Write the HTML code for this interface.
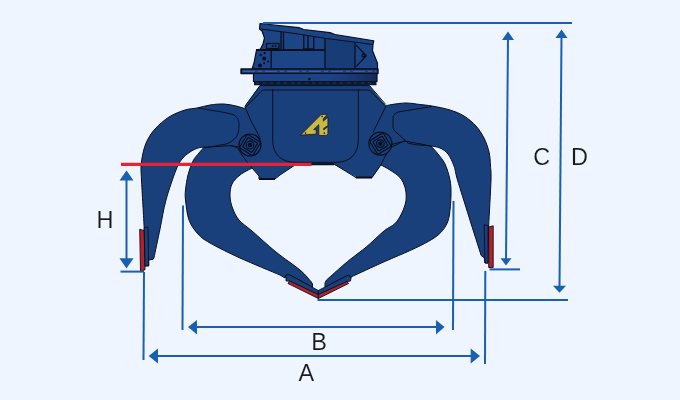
<!DOCTYPE html>
<html><head><meta charset="utf-8">
<style>
html,body{margin:0;padding:0;width:680px;height:400px;overflow:hidden;background:#eef5fe;}
svg{display:block;}
text{font-family:"Liberation Sans",sans-serif;fill:#1a1a1a;}
</style></head>
<body>
<svg width="680" height="400" viewBox="0 0 680 400">
<defs><linearGradient id="ringg" x1="253" y1="0" x2="377" y2="0" gradientUnits="userSpaceOnUse"><stop offset="0" stop-color="#1c4486"/><stop offset="0.6" stop-color="#1c4384"/><stop offset="0.75" stop-color="#193d7a"/><stop offset="1" stop-color="#122b57"/></linearGradient><filter id="gs" x="0" y="0" width="1" height="1"><feOffset dx="0" dy="0"/></filter></defs>
<rect width="680" height="400" fill="#eef5fe"/>

<!-- outer arms -->
<g fill="#1a407c" stroke="#0a0f1e" stroke-width="1" stroke-linejoin="round">
  <!-- left outer arm -->
  <path d="M246.0,109.0 C244.3,108.5 239.7,106.8 236.0,106.0 C232.3,105.2 228.3,104.2 224.0,104.0 C219.7,103.8 214.5,104.3 210.0,105.0 C205.5,105.7 201.2,107.2 197.0,108.0 C192.8,108.8 189.7,108.5 185.0,110.0 C180.3,111.5 174.0,113.8 169.0,117.0 C164.0,120.2 158.7,125.0 155.0,129.0 C151.3,133.0 149.0,137.0 147.0,141.0 C145.0,145.0 144.0,148.7 143.0,153.0 C142.0,157.3 141.2,162.5 141.0,167.0 C140.8,171.5 141.0,169.8 141.5,180.0 C142.0,190.2 143.8,220.0 144.2,228.0 L145.0,266.0 L148.7,266.0 L148.7,260.0 L153.2,259.2 L154.0,257.7 C155.0,252.9 158.0,238.6 160.0,229.0 C162.0,219.4 163.3,209.8 166.0,200.0 C168.7,190.2 173.3,176.8 176.0,170.0 C178.7,163.2 179.7,162.0 182.0,159.0 C184.3,156.0 187.3,153.8 190.0,152.0 C192.7,150.2 195.7,148.8 198.0,148.0 C200.3,147.2 203.0,147.4 204.0,147.3 L240.0,152.0 L255.0,152.0 L255.0,112.0 Z"/>
  <!-- right outer arm -->
  <path d="M385.0,106.0 C386.2,105.8 388.5,105.0 392.0,104.5 C395.5,104.0 401.3,103.0 406.0,103.0 C410.7,103.0 415.7,104.0 420.0,104.5 C424.3,105.0 427.0,105.1 432.0,106.0 C437.0,106.9 444.7,108.3 450.0,110.0 C455.3,111.7 459.7,113.3 464.0,116.0 C468.3,118.7 472.7,122.3 476.0,126.0 C479.3,129.7 481.8,133.7 484.0,138.0 C486.2,142.3 487.9,147.3 489.0,152.0 C490.1,156.7 490.2,161.3 490.5,166.0 C490.8,170.7 491.3,170.2 491.0,180.0 C490.7,189.8 489.1,217.5 488.7,225.0 L488.0,263.0 L485.0,263.0 L484.2,257.7 L481.2,255.5 C479.2,249.1 472.9,229.6 469.0,217.0 C465.1,204.4 460.0,188.5 457.5,180.0 C455.0,171.5 455.6,170.3 454.0,166.0 C452.4,161.7 450.3,157.0 448.0,154.0 C445.7,151.0 442.8,149.3 440.0,148.0 C437.2,146.7 432.5,146.3 431.0,146.0 L400.0,152.0 L375.0,152.0 L375.0,112.0 Z"/>
</g>

<!-- inner arms -->
<g fill="#1a407c" stroke="#0a0f1e" stroke-width="1" stroke-linejoin="round">
  <!-- left inner arm -->
  <path d="M204.0,147.3 C203.2,148.2 200.8,150.7 199.0,153.0 C197.2,155.3 194.8,157.3 193.0,161.0 C191.2,164.7 189.2,170.2 188.0,175.0 C186.8,179.8 185.9,185.8 185.5,190.0 C185.1,194.2 184.9,195.0 185.5,200.0 C186.1,205.0 186.9,214.3 189.0,220.0 C191.1,225.7 194.5,230.2 198.0,234.0 C201.5,237.8 203.0,239.0 210.0,243.0 C217.0,247.0 228.3,252.7 240.0,258.0 C251.7,263.3 273.3,272.2 280.0,275.0 L285.0,278.0 L286.0,275.0 L289.0,274.5 L312.5,287.3 L312.5,284.0 L311.0,281.5 C309.2,279.6 305.8,274.9 300.0,270.0 C294.2,265.1 284.0,258.5 276.0,252.0 C268.0,245.5 258.2,236.3 252.0,231.0 C245.8,225.7 242.2,223.8 239.0,220.0 C235.8,216.2 234.0,212.0 232.5,208.0 C231.0,204.0 230.1,200.0 230.0,196.0 C229.9,192.0 230.3,187.5 232.0,184.0 C233.7,180.5 236.7,177.7 240.0,175.0 C243.3,172.3 250.0,169.2 252.0,168.0 L262.0,150.0 L230.0,145.6 Z"/>
  <!-- right inner arm -->
  <path d="M431.0,146.0 C432.2,147.3 435.7,151.0 438.0,154.0 C440.3,157.0 443.0,159.7 445.0,164.0 C447.0,168.3 449.0,174.8 450.0,180.0 C451.0,185.2 451.1,189.2 451.0,195.0 C450.9,200.8 450.2,209.9 449.4,215.0 C448.5,220.1 447.7,222.4 445.9,225.6 C444.1,228.8 441.8,231.8 438.8,234.4 C435.9,237.1 432.9,238.8 428.2,241.5 C423.5,244.2 418.0,246.9 410.6,250.3 C403.2,253.7 394.0,257.4 384.1,261.8 C374.2,266.2 356.5,274.5 351.0,277.0 L351.0,278.0 L348.5,275.0 L325.0,287.3 L325.0,283.0 L326.5,280.0 C328.8,278.0 336.0,271.5 340.0,268.0 C344.0,264.5 346.2,262.6 350.6,259.1 C355.0,255.6 360.9,251.5 366.5,246.8 C372.1,242.1 379.4,234.7 384.1,230.9 C388.8,227.1 391.9,226.5 394.7,223.8 C397.5,221.2 399.2,218.1 400.9,215.0 C402.6,211.9 404.1,208.0 405.0,205.0 C405.9,202.0 406.2,199.9 406.2,197.0 C406.2,194.1 406.0,190.8 405.0,187.5 C404.0,184.2 402.5,180.4 400.0,177.5 C397.5,174.6 393.2,172.1 390.0,170.0 C386.8,167.9 382.5,165.8 381.0,165.0 L370.0,150.0 L405.0,141.0 Z"/>
</g>

<!-- body fill -->
<path d="M260,85 L369,85 L386,106 L392,150 L381,165 L372,178 L356,177 L334,164.5 L295,165 L280,175 L274,179.5 L259,179.5 L259,176 L252,168 L240,150 L245,106 Z" fill="#1a407c"/>
<!-- body outlines -->
<g fill="none" stroke="#0a0f1e" stroke-width="1" stroke-linejoin="round">
  <path d="M244.75,106.5 L260,85.6 L369.5,85.6 L385.75,104.5"/>
  <path d="M246,107 L261,91.5 C262,90.5 263,90 265,90 L367,90 C368.5,90 369.5,90.5 370.75,91.5 L385.1,105.5"/>
  <path d="M252,168 L259,176 L259,179 L275,179 L280,175 L295,165 L334,164 L356,177.6 L372,177.6 L381.5,164"/>
  <path d="M259,179 L275,179 M356,177.6 L372,177.6 M295,164.2 L334,164.2" stroke-width="2"/>
  <path d="M245,107 L251,121 C255,128 258,134 260.6,139.4"/>
  <path d="M386,106 L373,132.4"/>
  <path d="M230,145.6 C233,146 236,147 237.5,148 C239,150 240,152 241,153.75 L247.5,162.5 L252,168"/>
  <path d="M405,141 C402,142 400,143 398,144 L390.7,147.5"/>
  <path d="M386.6,153.6 L381.8,162.6 L381,165"/>
  <path d="M198,108 C215,111 230,113 234,115 C238,118 239,121 239,125 C239,130 238,134 237,136 C234,140 230,143 226,144 L204,148"/>
  <path d="M432,106.5 L398,112 C395,113 394,115 393,117 L393,128 C394,130 395,132 397,133 L408,143 C412,144 416,145 420,145 L431,146"/>
  <path d="M272.7,89 L272.7,140 C272.7,154 281,162.3 295,162.3 L336,162.3 C350,162.3 358.3,154 358.3,140 L358.3,89"/>
</g>

<!-- pivots -->
<g fill="#1a407c" stroke="#0a0f1e" stroke-width="1.2">
  <circle cx="250" cy="145" r="11"/>
  <rect x="242.2" y="137.2" width="15.6" height="15.6" rx="1.5" transform="rotate(32 250 145)" fill="none"/>
  <rect x="244.5" y="139.5" width="11" height="11" rx="1" transform="rotate(32 250 145)" fill="none"/>
  <circle cx="250" cy="145" r="3.8" fill="none"/>
  <circle cx="250" cy="145" r="1.7" fill="#0a0f1e"/>
  <circle cx="380.4" cy="143.6" r="11.5"/>
  <rect x="372.4" y="135.6" width="16" height="16" rx="1.5" transform="rotate(-32 380.4 143.6)" fill="none"/>
  <rect x="374.9" y="138.1" width="11" height="11" rx="1" transform="rotate(-32 380.4 143.6)" fill="none"/>
  <circle cx="380.4" cy="143.6" r="3.8" fill="none"/>
  <circle cx="380.4" cy="143.6" r="1.7" fill="#0a0f1e"/>
</g>

<!-- rotator -->
<g stroke="#0a0f1e" stroke-width="1.2" stroke-linejoin="round">
  <path d="M260,23.5 L298.75,27.6 L303.75,29.5 L330,32.6 L335,34.5 L373.75,40.75 L373,44.5 L372.5,50.75 L377.5,63.25 L377.5,69 L252,69 L254,63 L256.5,50 L260.5,49 L263,44 L264.5,38 L262,31 L259.5,29 Z" fill="#1c4585"/>
  <path d="M325,38.25 L353.75,42 L355,42.5 L355,68.5 L325,68.5 Z" fill="#183d76" stroke="none"/>
  <path d="M261,29 L295,33.5 L325,38.25 L353.75,42 L372.5,44.5" fill="none"/>
  <rect x="241" y="69" width="137" height="4.5" fill="#1b4283" stroke-width="1.4"/>
  <rect x="253.5" y="73.5" width="123.5" height="8" fill="url(#ringg)"/>
</g>
<g fill="none" stroke="#0a0f1e" stroke-width="1.3">
  <path d="M256,50 L324.5,50" stroke-width="1.8"/>
  <path d="M281,32 L281,49 M283.5,32 L283.5,49"/>
  <path d="M303.75,35 L303.75,48.9 L313.75,48.9 L313.75,36.5 M308,35.5 L308,48.9"/>
  <path d="M271.2,50 L271.2,68.5"/>
  <path d="M325,38 L325,68.5 M355,42.5 L355,68.5 M356.25,45.1 L366.25,55.75 L356.25,66.4"/>
  <rect x="266.5" y="43.5" width="12.5" height="5"/>
  <circle cx="363.5" cy="55.5" r="1.5"/>
  <path d="M243,71.3 L376,71.3" stroke="#3461ad" stroke-dasharray="12 3 4 3" stroke-width="1.2"/>
  <path d="M254,83.4 L376.5,83.4" stroke="#0d1a33" stroke-width="3.6"/>
  <path d="M256,83 L375,83" stroke="#223f75" stroke-dasharray="3 4" stroke-width="0.8"/>
  
</g>
<g fill="#0a0f1e">
  <circle cx="264.1" cy="58.5" r="2"/><circle cx="260" cy="65.6" r="2"/>
  <circle cx="260.6" cy="55" r="1.2"/><circle cx="264.7" cy="53.2" r="1.1"/>
  <circle cx="268.2" cy="61.5" r="1.1"/><circle cx="264.1" cy="63.2" r="1"/>
  <circle cx="309.4" cy="79.1" r="1.3"/>
  <circle cx="272.5" cy="46" r="1"/><circle cx="275.5" cy="46" r="0.9"/>
</g>

<!-- logo -->
<path d="M300.6,135.1 L321.1,114.6 L327.6,114.3 L323.4,118.5 L323.4,121.1 L327.9,117.2 L327.9,125.7 L323.7,128.3 L323.7,129.9 L327.9,126.6 L327.9,133.8 L326.6,135.4 L318.8,135.4 L318.8,124.7 L313.6,129.6 L316.2,129.6 L316.2,134.1 Z" fill="#c9b843" stroke="#0a0f1e" stroke-width="0.7" stroke-linejoin="round"/>
<g fill="#0a0f1e"><circle cx="322.1" cy="116.6" r="0.8"/><circle cx="305.5" cy="133.1" r="0.8"/><circle cx="324.3" cy="133.1" r="0.8"/></g>


<!-- teeth -->
<g stroke="#0a0f1e" stroke-width="0.9" stroke-linejoin="round">
  <path d="M139.7,229.2 L144.2,230.7 L145,269.7 L140.5,271.7 Z" fill="#b3222a"/>
  <path d="M144.2,227.7 L148,227 L148.7,265.2 L145,266 Z" fill="#1a407c"/>
  <path d="M484.2,224.7 L488,225.5 L488,263 L485,263 Z" fill="#1a407c"/>
  <path d="M488.7,227 L493.2,225.8 L493.2,267.5 L488.7,267.5 Z" fill="#b3222a"/>
  <path d="M286,275 L289,274.5 L318.3,290.5 L318.3,294.5 L289.5,281 L286,281 Z" fill="#1a407c"/>
  <path d="M289.5,281 L318.3,294.5 L318.3,298.5 L288,283.5 Z" fill="#b3222a"/>
  <path d="M351,278 L348.5,275 L318.3,290.5 L318.3,294.5 L347,281.5 L350.5,281 Z" fill="#1a407c"/>
  <path d="M347,281.5 L318.3,294.5 L318.3,298.5 L348.5,283.5 Z" fill="#b3222a"/>
</g>

<!-- red reference line -->
<line x1="121" y1="164.4" x2="311.5" y2="164.4" stroke="#e52238" stroke-width="3.2"/>

<!-- dimension lines -->
<g stroke="#1a5fb0" stroke-width="2" fill="none">
  <line x1="263" y1="23" x2="572" y2="23"/>
  <line x1="508" y1="38" x2="506" y2="261"/>
  <line x1="561.5" y1="36" x2="559.5" y2="288"/>
  <line x1="489.5" y1="269.4" x2="520" y2="269.4"/>
  <line x1="317.5" y1="300" x2="568" y2="300"/>
  <line x1="126.5" y1="178" x2="126.5" y2="260"/>
  <line x1="120.5" y1="271.6" x2="144" y2="271.6"/>
  <line x1="144" y1="272" x2="143.5" y2="360"/>
  <line x1="485.3" y1="271" x2="485" y2="364"/>
  <line x1="183" y1="205.5" x2="182.5" y2="330"/>
  <line x1="453.5" y1="201" x2="453" y2="330"/>
  <line x1="195" y1="327" x2="438" y2="327"/>
  <line x1="156" y1="356" x2="472" y2="356"/>
</g>
<g fill="#1a5fb0">
  <path d="M508,31.5 L514,40 L502,40 Z"/>
  <path d="M561.5,29.5 L567.5,38 L555.5,38 Z"/>
  <path d="M506,265.4 L511.5,258.3 L500.5,258.3 Z"/>
  <path d="M559.5,292.8 L566,285.8 L553,285.8 Z"/>
  <path d="M126.5,170.5 L133.5,180.5 L119.5,180.5 Z"/>
  <path d="M126.5,268.5 L133.5,258.3 L119.5,258.3 Z"/>
  <path d="M188,327 L197,320 L197,334.5 Z"/>
  <path d="M444.5,327 L436,320 L436,334.5 Z"/>
  <path d="M148.7,356 L158,348.5 L158,363.5 Z"/>
  <path d="M480,356 L470.7,348.5 L470.7,363.5 Z"/>
</g>

<!-- labels -->
<g font-size="23.5" text-anchor="middle" stroke="#eef5fe" stroke-width="0.12" filter="url(#gs)">
<text x="105.1" y="227.8">H</text>
<text x="541.7" y="165.2">C</text>
<text x="579.6" y="165.2">D</text>
<text x="319.1" y="350.2">B</text>
<text x="306.3" y="381.1">A</text>
</g>
</svg>
</body></html>
